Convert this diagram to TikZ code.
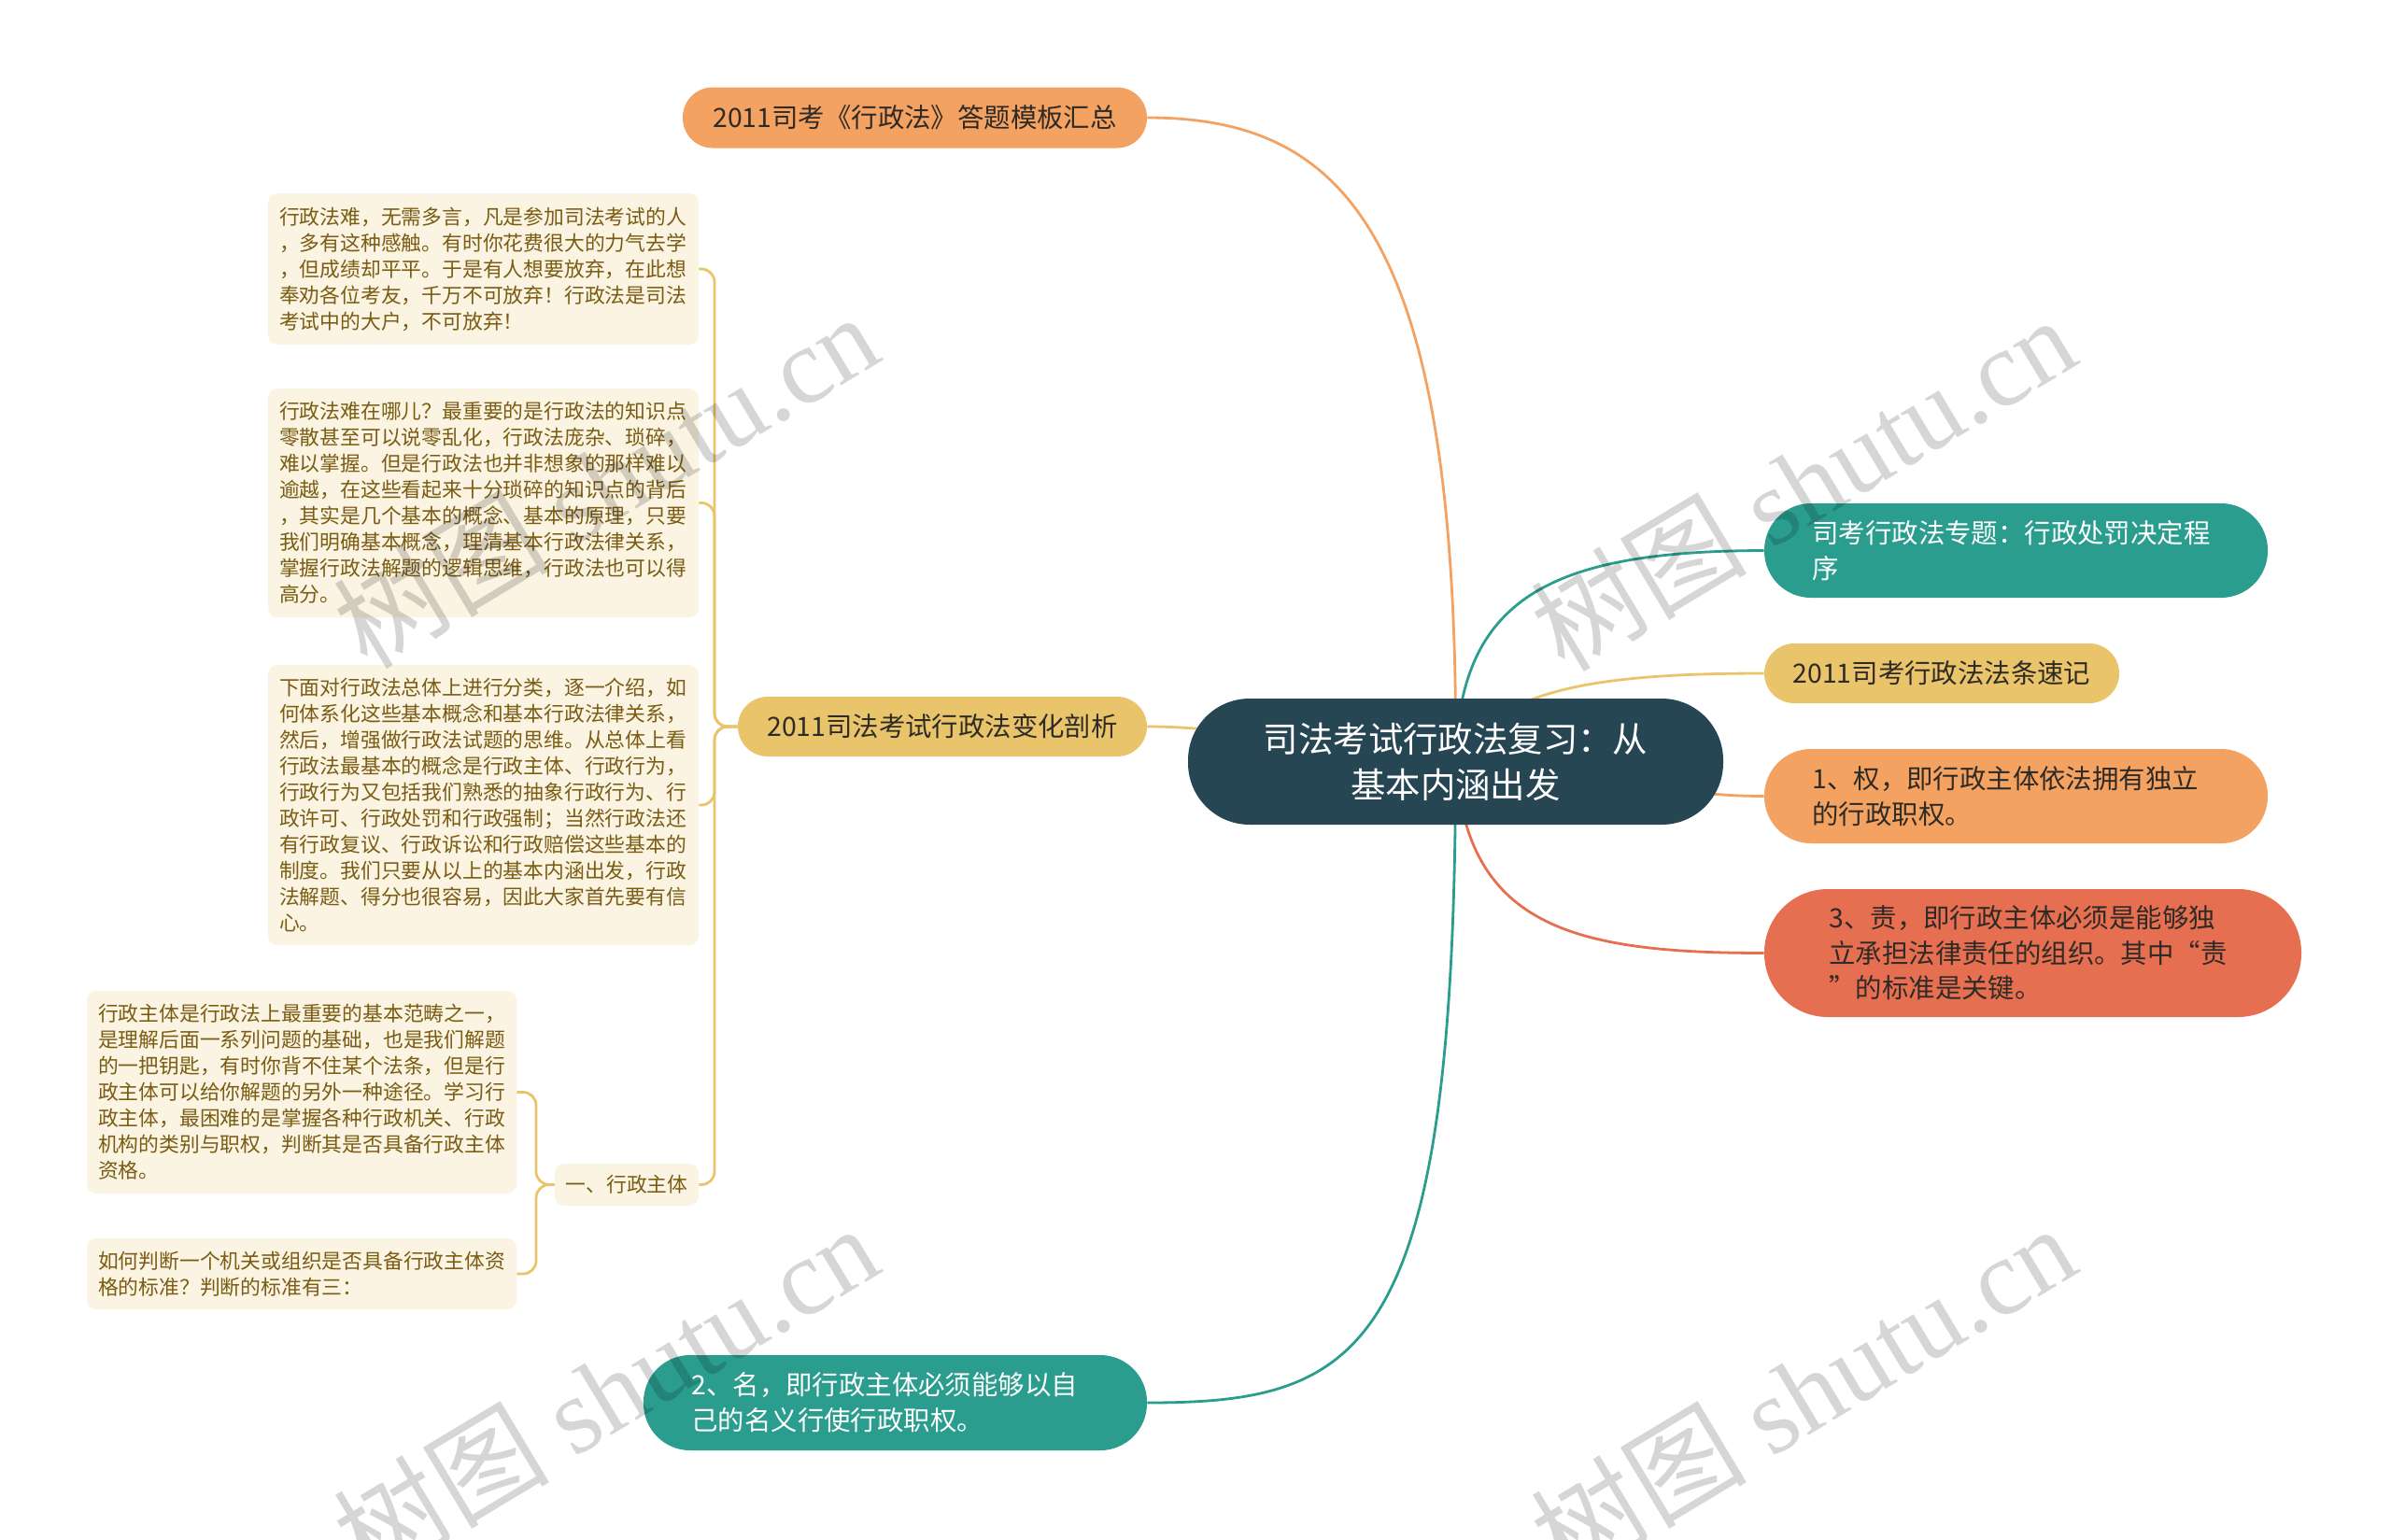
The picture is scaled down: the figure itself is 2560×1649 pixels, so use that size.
\documentclass[tikz,border=0pt]{standalone}
\usepackage{fontspec}
\setmainfont{Noto Sans CJK SC}
\newfontfamily\wmlatin{Liberation Serif}
\usetikzlibrary{backgrounds}
\definecolor{cdark}{HTML}{264653}
\definecolor{cteal}{HTML}{2A9D8F}
\definecolor{cyel}{HTML}{E9C46A}
\definecolor{corg}{HTML}{F4A261}
\definecolor{cred}{HTML}{E76F51}
\definecolor{cbeige}{HTML}{FBF4E3}
\definecolor{cbrown}{HTML}{7A5C12}
\definecolor{ctxt}{HTML}{2E2A25}
\begin{document}
\begin{tikzpicture}[x=0.5pt,y=-0.5pt,
  pillbase/.style={rectangle, inner sep=0pt, draw=none},
  bigfont/.style={font=\fontsize{14.2}{18.8}\selectfont},
  smallfont/.style={font=\fontsize{10.9}{14}\selectfont},
  txtbox/.style={rectangle, rounded corners=5pt, fill=cbeige, text=cbrown, smallfont, align=left, inner sep=0pt},
  conn/.style={line width=1.4pt},
  subconn/.style={line width=1.4pt, draw=cyel, rounded corners=7pt},
  wm/.style={rotate=31, text=black, opacity=0.16, font=\fontsize{58}{58}\selectfont}
]
\useasboundingbox (0,0) rectangle (2560,1649);

% central
\node[pillbase, fill=cdark, text=white, rounded corners=33pt, minimum width=286.5pt, minimum height=67.5pt, align=center, font=\fontsize{18.7}{24.5}\selectfont] (C) at (1558.5,815.5) {司法考试行政法复习：从\\基本内涵出发};

% first-level nodes
\node[pillbase, fill=corg, text=ctxt, rounded corners=16pt, minimum width=248.5pt, minimum height=32.5pt, bigfont] (T) at (979.5,126) {2011司考《行政法》答题模板汇总};
\node[pillbase, fill=cyel, text=ctxt, rounded corners=16pt, minimum width=219pt, minimum height=32pt, bigfont] (L) at (1009,778) {2011司法考试行政法变化剖析};
\node[pillbase, fill=cteal, text=white, rounded corners=25pt, minimum width=269.5pt, minimum height=50.5pt, text width=218pt, align=left, bigfont] (R1) at (2158.5,589.5) {司考行政法专题：行政处罚决定程\\序};
\node[pillbase, fill=cyel, text=ctxt, rounded corners=16pt, minimum width=190pt, minimum height=32pt, bigfont] (R2) at (2079,721) {2011司考行政法法条速记};
\node[pillbase, fill=corg, text=ctxt, rounded corners=25pt, minimum width=269.5pt, minimum height=50.5pt, text width=218pt, align=left, bigfont] (R3) at (2158.5,852.5) {1、权，即行政主体依法拥有独立\\的行政职权。};
\node[pillbase, fill=cred, text=ctxt, rounded corners=34pt, minimum width=287.5pt, minimum height=68.5pt, text width=218pt, align=left, bigfont] (R4) at (2176.5,1020.5) {3、责，即行政主体必须是能够独\\立承担法律责任的组织。其中“责\\”的标准是关键。};
\node[pillbase, fill=cteal, text=white, rounded corners=25pt, minimum width=269.5pt, minimum height=51pt, text width=218pt, align=left, bigfont] (B) at (958.5,1502) {2、名，即行政主体必须能够以自\\己的名义行使行政职权。};

% text boxes
\node[txtbox, minimum width=230.5pt, minimum height=81pt, text width=218.5pt] (a) at (517.5,288) {行政法难，无需多言，凡是参加司法考试的人\\，多有这种感触。有时你花费很大的力气去学\\，但成绩却平平。于是有人想要放弃，在此想\\奉劝各位考友，千万不可放弃！行政法是司法\\考试中的大户，不可放弃！};
\node[txtbox, minimum width=230.5pt, minimum height=122.5pt, text width=218.5pt] (b) at (517.5,538.5) {行政法难在哪儿？最重要的是行政法的知识点\\零散甚至可以说零乱化，行政法庞杂、琐碎，\\难以掌握。但是行政法也并非想象的那样难以\\逾越，在这些看起来十分琐碎的知识点的背后\\，其实是几个基本的概念、基本的原理，只要\\我们明确基本概念，理清基本行政法律关系，\\掌握行政法解题的逻辑思维，行政法也可以得\\高分。};
\node[txtbox, minimum width=230.5pt, minimum height=150pt, text width=218.5pt] (c) at (517.5,862) {下面对行政法总体上进行分类，逐一介绍，如\\何体系化这些基本概念和基本行政法律关系，\\然后，增强做行政法试题的思维。从总体上看\\行政法最基本的概念是行政主体、行政行为，\\行政行为又包括我们熟悉的抽象行政行为、行\\政许可、行政处罚和行政强制；当然行政法还\\有行政复议、行政诉讼和行政赔偿这些基本的\\制度。我们只要从以上的基本内涵出发，行政\\法解题、得分也很容易，因此大家首先要有信\\心。};
\node[txtbox, minimum width=77pt, minimum height=22.5pt, align=center] (d) at (671,1268.5) {一、行政主体};
\node[txtbox, minimum width=230pt, minimum height=108.5pt, text width=218pt] (e) at (323,1169.5) {行政主体是行政法上最重要的基本范畴之一，\\是理解后面一系列问题的基础，也是我们解题\\的一把钥匙，有时你背不住某个法条，但是行\\政主体可以给你解题的另外一种途径。学习行\\政主体，最困难的是掌握各种行政机关、行政\\机构的类别与职权，判断其是否具备行政主体\\资格。};
\node[txtbox, minimum width=230pt, minimum height=38pt, text width=218pt] (f) at (323,1364) {如何判断一个机关或组织是否具备行政主体资\\格的标准？判断的标准有三：};

% connectors
\begin{pgfonlayer}{background}
\fill[white] (0,0) rectangle (2560,1649);
\draw[conn, corg] (C.center) .. controls (1562,250) and (1440,126) .. (T.east);
\draw[conn, cteal] (C.center) .. controls (1562,640) and (1660,590) .. (R1.west);
\draw[conn, cyel] (C.center) .. controls (1600,740) and (1700,721) .. (R2.west);
\draw[conn, corg] (C.center) .. controls (1700,815) and (1760,852.5) .. (R3.west);
\draw[conn, cred] (C.center) .. controls (1570,990) and (1680,1020.5) .. (R4.west);
\draw[conn, cteal] (C.center) .. controls (1558,1450) and (1460,1502) .. (B.east);
\draw[conn, cyel] (C.center) .. controls (1450,815) and (1350,778) .. (L.east);
\draw[subconn] (L.west) -| (765,288) -- (a.east);
\draw[subconn] (L.west) -| (765,538.5) -- (b.east);
\draw[subconn] (L.west) -| (765,862) -- (c.east);
\draw[subconn] (L.west) -| (765,1268.5) -- (d.east);
\draw[subconn] (d.west) -| (574,1169.5) -- (e.east);
\draw[subconn] (d.west) -| (574,1364) -- (f.east);
\end{pgfonlayer}

% watermarks
\node[wm] (w1) at (648,514) {树图 {\wmlatin shutu.cn}};
\node[wm] (w2) at (1930,517) {树图 {\wmlatin shutu.cn}};
\node[wm] (w3) at (648,1490) {树图 {\wmlatin shutu.cn}};
\node[wm] (w4) at (1930,1490) {树图 {\wmlatin shutu.cn}};
\end{tikzpicture}
\end{document}
